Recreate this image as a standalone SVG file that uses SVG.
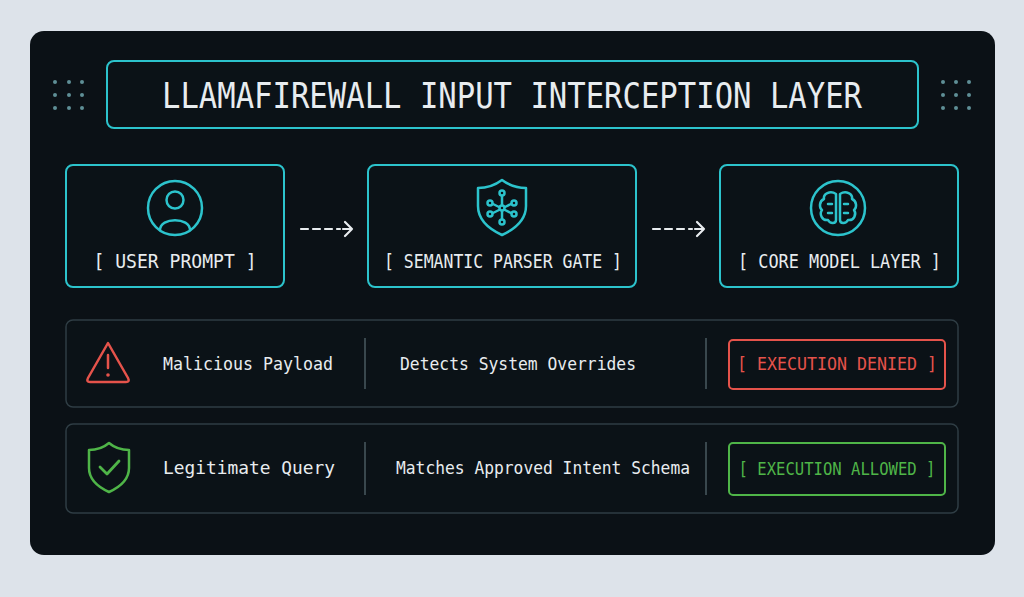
<svg xmlns="http://www.w3.org/2000/svg" width="1024" height="597" viewBox="0 0 1024 597">
<style>
.t{font-family:"DejaVu Sans Mono","Liberation Mono",monospace;fill:#e8ecef}
.box{fill:#0b1217;stroke:#2cc3cc;stroke-width:2}
.row{fill:#0b1217;stroke:#2f3d44;stroke-width:1.5}
.ic{fill:none;stroke:#2cc3cc;stroke-width:2.5;stroke-linecap:round;stroke-linejoin:round}
.dot{fill:#5f8f96}
</style>
<rect width="1024" height="597" fill="#dde3ea"/>
<rect x="30" y="31" width="965" height="524" rx="14" fill="#0b1116"/>
<g id="dotsL" class="dot"><circle cx="55" cy="82" r="2"/><circle cx="69" cy="82" r="2"/><circle cx="82" cy="82" r="2"/><circle cx="55" cy="95" r="2"/><circle cx="69" cy="95" r="2"/><circle cx="82" cy="95" r="2"/><circle cx="55" cy="108" r="2"/><circle cx="69" cy="108" r="2"/><circle cx="82" cy="108" r="2"/></g>
<g id="dotsR" class="dot"><circle cx="943" cy="82" r="2"/><circle cx="956" cy="82" r="2"/><circle cx="969" cy="82" r="2"/><circle cx="943" cy="95" r="2"/><circle cx="956" cy="95" r="2"/><circle cx="969" cy="95" r="2"/><circle cx="943" cy="108" r="2"/><circle cx="956" cy="108" r="2"/><circle cx="969" cy="108" r="2"/></g>
<g id="title"><rect class="box" x="107" y="61" width="811" height="67" rx="7"/>
<text class="t" x="512" y="108" font-size="35" text-anchor="middle" textLength="700" lengthAdjust="spacingAndGlyphs">LLAMAFIREWALL INPUT INTERCEPTION LAYER</text></g>
<g id="user"><rect class="box" x="66" y="165" width="218" height="122" rx="7"/>
<circle class="ic" cx="175" cy="208" r="27"/><circle class="ic" cx="175" cy="200" r="8.5"/><path class="ic" d="M160 230 C160 217 190 217 190 230"/>
<text class="t" x="175" y="268" font-size="19" text-anchor="middle" textLength="163" lengthAdjust="spacingAndGlyphs">[ USER PROMPT ]</text></g>
<g id="parser"><rect class="box" x="368" y="165" width="268" height="122" rx="7"/>
<path class="ic" d="M502 180 C510 186 518 188 526 188 L526 206 C526 220 515 229 502 235 C489 229 478 220 478 206 L478 188 C486 188 494 186 502 180 Z"/>
<g class="ic" stroke-width="1.8"><circle cx="502" cy="193" r="2.5"/><circle cx="490" cy="203" r="2.5"/><circle cx="514" cy="203" r="2.5"/><circle cx="490" cy="214" r="2.5"/><circle cx="514" cy="214" r="2.5"/><circle cx="502" cy="222" r="2.5"/><circle cx="502" cy="208" r="2.5"/><path d="M502 196V205M502 211V219M493 204L499 207M511 204L505 207M493 213L499 210M511 213L505 210"/></g>
<text class="t" x="503" y="268" font-size="19" text-anchor="middle" textLength="238" lengthAdjust="spacingAndGlyphs">[ SEMANTIC PARSER GATE ]</text></g>
<g id="core"><rect class="box" x="720" y="165" width="238" height="122" rx="7"/>
<circle class="ic" cx="838" cy="208" r="27"/>
<path class="ic" d="M836 194 C830 190 823 194 824 199 C819 201 819 208 822 210 C819 214 822 221 828 220 C830 224 836 224 836 220 Z M840 194 C846 190 853 194 852 199 C857 201 857 208 854 210 C857 214 854 221 848 220 C846 224 840 224 840 220 Z M828 204 H832 M828 213 H832 M844 204 H848 M844 213 H848" stroke-width="2"/>
<text class="t" x="839.5" y="268" font-size="19" text-anchor="middle" textLength="203" lengthAdjust="spacingAndGlyphs">[ CORE MODEL LAYER ]</text></g>
<g id="connectors" fill="none" stroke="#e8ecef" stroke-width="2.2" stroke-linecap="round" stroke-linejoin="round">
<path d="M301 229H340" stroke-dasharray="7 5"/><path d="M343 229H352M345 222L352 229L345 236"/>
<path d="M653 229H692" stroke-dasharray="7 5"/><path d="M695 229H704M697 222L704 229L697 236"/>
</g>
<g id="row1"><rect class="row" x="66" y="320" width="892" height="87" rx="7"/>
<path d="M108 343 L128 378 Q130 382 126 382 L90 382 Q86 382 88 378 Z" fill="none" stroke="#e5534b" stroke-width="2.5" stroke-linejoin="round"/>
<path d="M108 355V368" stroke="#e5534b" stroke-width="2.5" stroke-linecap="round"/><circle cx="108" cy="375" r="1.8" fill="#e5534b"/>
<text class="t" x="163" y="370" font-size="17" textLength="170" lengthAdjust="spacingAndGlyphs">Malicious Payload</text>
<line x1="365" y1="338" x2="365" y2="389" stroke="#4a5a60" stroke-width="1.5"/>
<text class="t" x="400" y="370" font-size="17" textLength="236" lengthAdjust="spacingAndGlyphs">Detects System Overrides</text>
<line x1="706" y1="338" x2="706" y2="389" stroke="#4a5a60" stroke-width="1.5"/>
<rect x="729" y="340" width="216" height="49" rx="4" fill="none" stroke="#e5534b" stroke-width="2"/>
<text x="837" y="370" font-size="17" text-anchor="middle" textLength="200" lengthAdjust="spacingAndGlyphs" font-family="DejaVu Sans Mono,monospace" fill="#e5534b">[ EXECUTION DENIED ]</text></g>
<g id="row2"><rect class="row" x="66" y="424" width="892" height="89" rx="7"/>
<path d="M109 443 C116 449 122 450 129 450 L129 468 C129 480 120 487 109 492 C98 487 89 480 89 468 L89 450 C96 450 102 449 109 443 Z" fill="none" stroke="#4fb548" stroke-width="2.5" stroke-linejoin="round"/>
<path d="M100 467 L107 474 L119 461" fill="none" stroke="#4fb548" stroke-width="2.8" stroke-linecap="round" stroke-linejoin="round"/>
<text class="t" x="163" y="474" font-size="17" textLength="172" lengthAdjust="spacingAndGlyphs">Legitimate Query</text>
<line x1="365" y1="442" x2="365" y2="495" stroke="#4a5a60" stroke-width="1.5"/>
<text class="t" x="396" y="474" font-size="17" textLength="294" lengthAdjust="spacingAndGlyphs">Matches Approved Intent Schema</text>
<line x1="706" y1="442" x2="706" y2="495" stroke="#4a5a60" stroke-width="1.5"/>
<rect x="729" y="443" width="216" height="52" rx="4" fill="none" stroke="#4fb548" stroke-width="2"/>
<text x="837" y="475" font-size="17" text-anchor="middle" textLength="197" lengthAdjust="spacingAndGlyphs" font-family="DejaVu Sans Mono,monospace" fill="#4fb548">[ EXECUTION ALLOWED ]</text></g>
</svg>
